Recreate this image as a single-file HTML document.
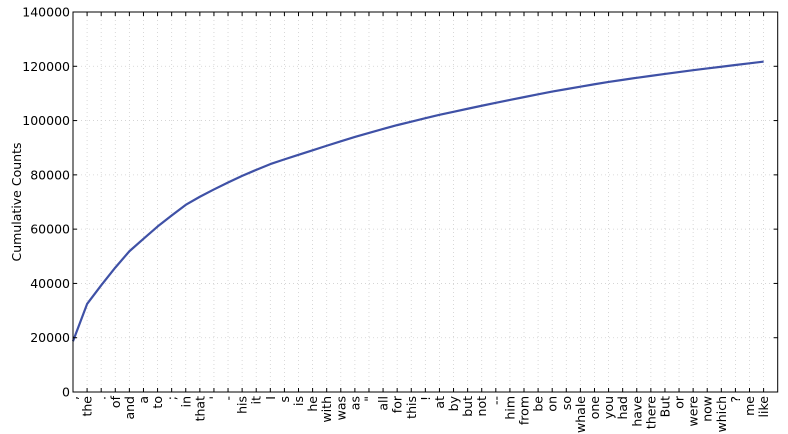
<!DOCTYPE html>
<html><head><meta charset="utf-8"><style>
body{margin:0;background:#fff;font-family:"DejaVu Sans","Liberation Sans",sans-serif}
svg{display:block}
</style></head><body>
<svg id="chart" width="788" height="434" xmlns="http://www.w3.org/2000/svg"></svg>
<script>
const words = [",","the",".","of","and","a","to",";","in","that","'","-","his","it","I","s","is","he","with","was","as","\"","all","for","this","!","at","by","but","not","--","him","from","be","on","so","whale","one","you","had","have","there","But","or","were","now","which","?","me","like"];
const counts = [18713,13721,6862,6536,6024,4569,4542,4072,3916,2982,2684,2552,2459,2209,2124,1739,1695,1661,1659,1632,1620,1478,1462,1414,1280,1269,1231,1137,1113,1103,1070,1058,1052,1030,1005,918,906,889,841,767,760,715,705,697,680,646,640,637,627,624];
const yTicks = [0,20000,40000,60000,80000,100000,120000,140000];

const NS="http://www.w3.org/2000/svg";
const svg=document.getElementById('chart');
const L=73,R=777.7,T=12,B=392;
const xs=i=>L+(R-L)*i/50;
const ys=v=>B-(B-T)*v/140000;
function mk(t,a){const e=document.createElementNS(NS,t);for(const k in a)e.setAttribute(k,a[k]);svg.appendChild(e);return e;}

// grid
yTicks.forEach(v=>{
  const g=mk('line',{x1:L,x2:R,y1:ys(v),y2:ys(v),stroke:'#cfcfcf','stroke-width':0.8,'stroke-dasharray':'1,3'});
  
  
});
words.forEach((w,i)=>{
  const g=mk('line',{x1:xs(i),x2:xs(i),y1:T,y2:B,stroke:'#cfcfcf','stroke-width':0.8,'stroke-dasharray':'1,3'});
  
  
});

// line
let cum=0;const pts=counts.map((c,i)=>{cum+=c;return xs(i).toFixed(2)+','+ys(cum).toFixed(2);});
const pl=mk('polyline',{points:pts.join(' '),fill:'none',stroke:'#3f51a6','stroke-width':2.2,'stroke-linejoin':'round'});



// frame
const fr=mk('rect',{x:L,y:T,width:R-L,height:B-T,fill:'none',stroke:'#000','stroke-width':1});



// y ticks
yTicks.forEach(v=>{
  mk('line',{x1:L,x2:L+4,y1:ys(v),y2:ys(v),stroke:'#000'});
  mk('line',{x1:R,x2:R-4,y1:ys(v),y2:ys(v),stroke:'#000'});
  const t=mk('text',{x:L-3,y:ys(v)+4.5,'text-anchor':'end','font-size':12.5});
  t.textContent=v;
  
  
});
// x ticks
words.forEach((w,i)=>{
  mk('line',{x1:xs(i),x2:xs(i),y1:B,y2:B-4,stroke:'#000'});
  mk('line',{x1:xs(i),x2:xs(i),y1:T,y2:T+4,stroke:'#000'});
  const t=mk('text',{x:0,y:0,'text-anchor':'end','font-size':12.5,transform:`translate(${xs(i)+4.5},${B+4}) rotate(-90)`});
  t.textContent=w;
  
  
});
const yl=mk('text',{x:0,y:0,'text-anchor':'middle','font-size':12.5,transform:`translate(21,${(T+B)/2}) rotate(-90)`});
yl.textContent='Cumulative Counts';


</script>
</body></html>
